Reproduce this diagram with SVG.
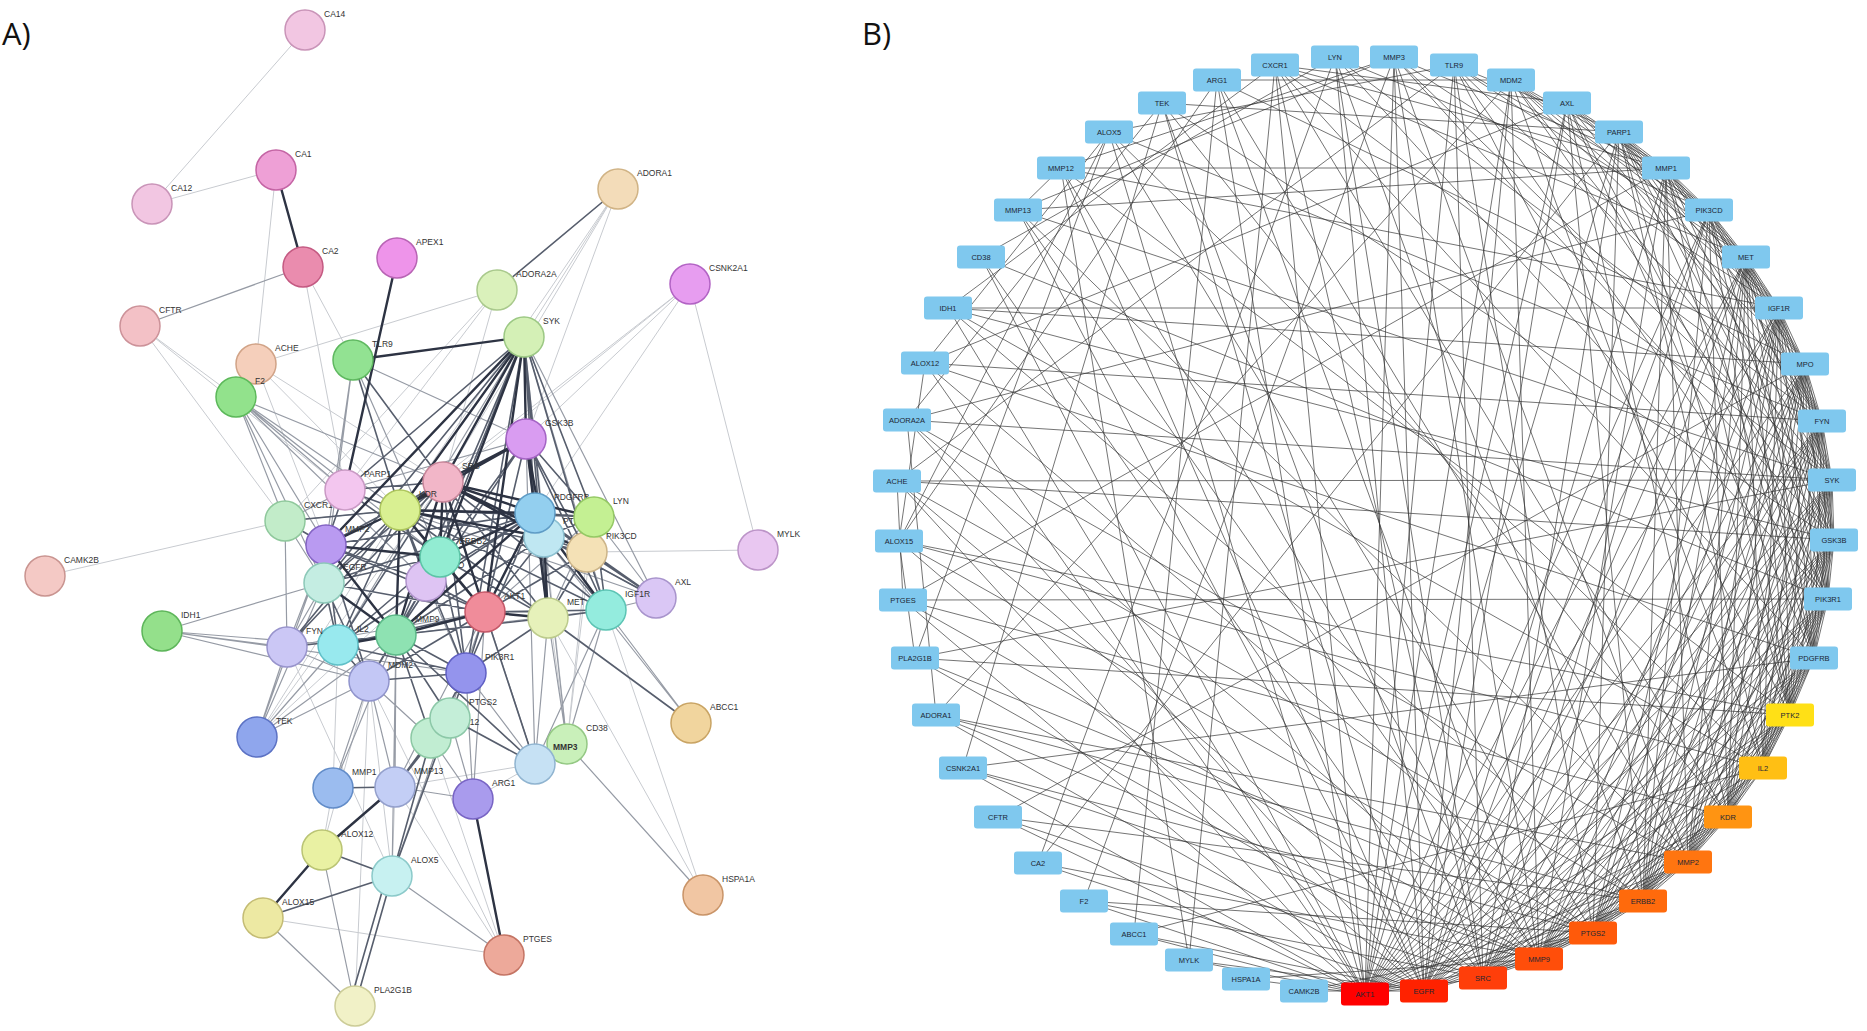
<svg xmlns="http://www.w3.org/2000/svg" width="1867" height="1031" viewBox="0 0 1867 1031">
<style>
.bg{fill:#ffffff}
.pl{font-family:"Open Sans","Liberation Sans",sans-serif;font-size:31px;fill:#111}
.na circle{stroke-width:1.5}
.la{font-family:"Liberation Sans",Arial,sans-serif;font-size:8.5px;fill:#333}
.lb{font-family:"Liberation Sans",Arial,sans-serif;font-size:7.5px;fill:#1c2633;text-anchor:middle}
.bx{fill:#7fc8ee}
.e1{stroke:#c8cbd0;stroke-width:1;fill:none}
.e2{stroke:#969ba5;stroke-width:1.2;fill:none}
.e3{stroke:#575e6d;stroke-width:1.6;fill:none}
.e4{stroke:#2d3343;stroke-width:2.4;fill:none}
.eb{stroke:#303030;stroke-width:0.9;fill:none;opacity:0.75}
</style>
<rect class="bg" x="0" y="0" width="1867" height="1031"/>
<text class="pl" x="2" y="45">A)</text>
<text class="pl" x="862" y="45">B)</text>

<g id="connectors-A">
<path class="e1" d="M305 30L152 204M152 204L276 170M276 170L256 364M303 267L353 360M303 267L345 490M140 326L236 397M140 326L285 521M140 326L345 490M256 364L497 290M256 364L400 510M256 364L443 482M256 364L326 545M618 189L526 439M618 189L443 482M618 189L400 510M618 189L524 337M497 290L345 490M497 290L285 521M497 290L443 482M690 284L526 439M690 284L443 482M690 284L400 510M690 284L535 513M690 284L758 550M758 550L587 552M45 576L285 521M257 737L400 510M257 737L443 482M257 737L426 581M703 895L548 618M703 895L606 610M504 955L263 918M504 955L369 681M504 955L395 787M504 955L431 738M322 850L369 681M322 850L333 788M392 876L395 787M392 876L369 681M392 876L287 647M355 1006L369 681M333 788L338 645M473 799L535 764M395 787L535 764M567 744L587 552M567 744L594 517M567 744L526 439M567 744L524 337"/>
<path class="e2" d="M303 267L140 326M162 631L324 583M162 631L287 647M162 631L338 645M162 631L369 681M162 631L466 673M236 397L285 521M236 397L345 490M236 397L326 545M236 397L400 510M236 397L443 482M236 397L324 583M236 397L426 581M236 397L440 557M353 360L526 439M353 360L326 545M353 360L324 583M353 360L440 557M524 337L338 645M524 337L606 610M524 337L656 598M257 737L287 647M257 737L338 645M257 737L324 583M257 737L326 545M257 737L396 635M257 737L369 681M691 723L544 537M691 723L606 610M703 895L567 744M504 955L392 876M322 850L355 1006M263 918L355 1006M392 876L485 612M392 876L396 635M333 788L369 681M333 788L396 635M395 787L369 681M395 787L396 635M395 787L485 612M395 787L473 799M473 799L431 738M473 799L450 718M473 799L485 612M473 799L466 673M535 764L548 618M535 764L606 610M535 764L466 673M535 764L567 744M535 764L443 482M535 764L526 439M567 744L548 618M567 744L606 610M567 744L544 537M526 439L326 545M526 439L345 490M544 537L656 598M594 517L656 598M594 517L548 618M594 517L485 612M606 610L656 598M606 610L396 635M400 510L656 598M485 612L287 647M287 647L324 583M287 647L326 545M287 647L369 681M287 647L285 521M426 581L466 673M369 681L431 738M345 490L285 521M285 521L324 583M285 521L400 510"/>
<path class="e3" d="M618 189L497 290M353 360L400 510M353 360L443 482M524 337L345 490M524 337L324 583M524 337L426 581M524 337L535 513M524 337L544 537M524 337L594 517M524 337L587 552M524 337L396 635M524 337L548 618M524 337L466 673M691 723L548 618M392 876L322 850M263 918L392 876M392 876L431 738M392 876L450 718M392 876L355 1006M386 878L349 1006M333 788L395 787M395 787L431 738M395 787L450 718M535 764L450 718M535 764L485 612M535 764L396 635M400 510L426 581M400 510L324 583M400 510L594 517M400 510L587 552M400 510L338 645M400 510L287 647M400 510L466 673M400 510L548 618M400 510L606 610M400 510L345 490M400 510L285 521M443 482L326 545M443 482L548 618M443 482L606 610M443 482L656 598M443 482L338 645M443 482L287 647M443 482L466 673M443 482L324 583M443 482L345 490M526 439L594 517M526 439L587 552M526 439L485 612M526 439L396 635M526 439L440 557M526 439L548 618M526 439L606 610M535 513L594 517M535 513L587 552M535 513L656 598M535 513L326 545M535 513L324 583M535 513L426 581M535 513L466 673M535 513L338 645M544 537L485 612M544 537L606 610M544 537L396 635M544 537L594 517M544 537L587 552M594 517L606 610M594 517L587 552M587 552L606 610M587 552L656 598M587 552L548 618M587 552L485 612M606 610L548 618M606 610L485 612M548 618L396 635M548 618L466 673M548 618L440 557M485 612L426 581M485 612L326 545M485 612L324 583M485 612L338 645M485 612L466 673M485 612L369 681M396 635L287 647M396 635L440 557M396 635L426 581M396 635L369 681M396 635L466 673M396 635L431 738M396 635L450 718M338 645L324 583M338 645L326 545M338 645L440 557M338 645L369 681M338 645L466 673M326 545L324 583M326 545L426 581M326 545L345 490M326 545L285 521M326 545L369 681M324 583L440 557M324 583L369 681M440 557L426 581M440 557L466 673M440 557L369 681M440 557L345 490M369 681L466 673M466 673L431 738M466 673L450 718"/>
<path class="e4" d="M276 170L303 267M397 258L345 490M353 360L524 337M524 337L526 439M524 337L443 482M524 337L400 510M524 337L326 545M524 337L440 557M524 337L485 612M504 955L473 799M322 850L263 918M322 850L395 787M400 510L443 482M400 510L526 439M400 510L326 545M400 510L440 557M400 510L535 513M400 510L544 537M400 510L485 612M400 510L396 635M443 482L526 439M443 482L440 557M443 482L535 513M443 482L544 537M443 482L594 517M443 482L587 552M443 482L485 612M443 482L396 635M526 439L535 513M526 439L544 537M535 513L544 537M535 513L606 610M535 513L548 618M535 513L485 612M535 513L396 635M535 513L440 557M544 537L548 618M548 618L485 612M485 612L396 635M485 612L440 557M396 635L338 645M396 635L324 583M396 635L326 545M326 545L440 557"/>
</g>

<g id="nodes-A" class="na">
<g id="a-CA14"><circle cx="305" cy="30" r="20" fill="#f2c6e2" stroke="#c994b8"/><text class="la" x="324" y="17">CA14</text></g>
<g id="a-CA12"><circle cx="152" cy="204" r="20" fill="#f2c6e2" stroke="#c994b8"/><text class="la" x="171" y="191">CA12</text></g>
<g id="a-CA1"><circle cx="276" cy="170" r="20" fill="#eea0d6" stroke="#c464a4"/><text class="la" x="295" y="157">CA1</text></g>
<g id="a-CA2"><circle cx="303" cy="267" r="20" fill="#ea8cae" stroke="#c45a82"/><text class="la" x="322" y="254">CA2</text></g>
<g id="a-APEX1"><circle cx="397" cy="258" r="20" fill="#ee94ea" stroke="#b864b4"/><text class="la" x="416" y="245">APEX1</text></g>
<g id="a-CFTR"><circle cx="140" cy="326" r="20" fill="#f3c1c6" stroke="#cc9299"/><text class="la" x="159" y="313">CFTR</text></g>
<g id="a-ACHE"><circle cx="256" cy="364" r="20" fill="#f5cfbb" stroke="#d1a387"/><text class="la" x="275" y="351">ACHE</text></g>
<g id="a-TLR9"><circle cx="353" cy="360" r="20" fill="#92e292" stroke="#5fb860"/><text class="la" x="372" y="347">TLR9</text></g>
<g id="a-F2"><circle cx="236" cy="397" r="20" fill="#92e28c" stroke="#5cb85a"/><text class="la" x="255" y="384">F2</text></g>
<g id="a-ADORA1"><circle cx="618" cy="189" r="20" fill="#f3dcb9" stroke="#d0b385"/><text class="la" x="637" y="176">ADORA1</text></g>
<g id="a-ADORA2A"><circle cx="497" cy="290" r="20" fill="#daf1bb" stroke="#a9c98c"/><text class="la" x="516" y="277">ADORA2A</text></g>
<g id="a-SYK"><circle cx="524" cy="337" r="20" fill="#d4f0b6" stroke="#9cc884"/><text class="la" x="543" y="324">SYK</text></g>
<g id="a-CSNK2A1"><circle cx="690" cy="284" r="20" fill="#e79df0" stroke="#b263c4"/><text class="la" x="709" y="271">CSNK2A1</text></g>
<g id="a-CAMK2B"><circle cx="45" cy="576" r="20" fill="#f4c9c5" stroke="#c99490"/><text class="la" x="64" y="563">CAMK2B</text></g>
<g id="a-IDH1"><circle cx="162" cy="631" r="20" fill="#94e08b" stroke="#5db55a"/><text class="la" x="181" y="618">IDH1</text></g>
<g id="a-MYLK"><circle cx="758" cy="550" r="20" fill="#e9c7f1" stroke="#bc94c8"/><text class="la" x="777" y="537">MYLK</text></g>
<g id="a-TEK"><circle cx="257" cy="737" r="20" fill="#8fa6ed" stroke="#5c72c4"/><text class="la" x="276" y="724">TEK</text></g>
<g id="a-ABCC1"><circle cx="691" cy="723" r="20" fill="#f1d59e" stroke="#c9a464"/><text class="la" x="710" y="710">ABCC1</text></g>
<g id="a-HSPA1A"><circle cx="703" cy="895" r="20" fill="#f1c6a3" stroke="#c99468"/><text class="la" x="722" y="882">HSPA1A</text></g>
<g id="a-PTGES"><circle cx="504" cy="955" r="20" fill="#eda99a" stroke="#c47464"/><text class="la" x="523" y="942">PTGES</text></g>
<g id="a-ALOX12"><circle cx="322" cy="850" r="20" fill="#e9f1a3" stroke="#bac474"/><text class="la" x="341" y="837">ALOX12</text></g>
<g id="a-ALOX5"><circle cx="392" cy="876" r="20" fill="#c7f1f1" stroke="#8ccaca"/><text class="la" x="411" y="863">ALOX5</text></g>
<g id="a-ALOX15"><circle cx="263" cy="918" r="20" fill="#ede9a3" stroke="#c4bc74"/><text class="la" x="282" y="905">ALOX15</text></g>
<g id="a-PLA2G1B"><circle cx="355" cy="1006" r="20" fill="#f1f1c7" stroke="#cccc98"/><text class="la" x="374" y="993">PLA2G1B</text></g>
<g id="a-MMP1"><circle cx="333" cy="788" r="20" fill="#9bbcef" stroke="#628cc8"/><text class="la" x="352" y="775">MMP1</text></g>
<g id="a-MMP13"><circle cx="395" cy="787" r="20" fill="#c3cef5" stroke="#94a0cc"/><text class="la" x="414" y="774">MMP13</text></g>
<g id="a-ARG1"><circle cx="473" cy="799" r="20" fill="#a99bed" stroke="#7864c4"/><text class="la" x="492" y="786">ARG1</text></g>
<g id="a-MMP12"><circle cx="431" cy="738" r="20" fill="#c1edd2" stroke="#8cc8a4"/><text class="la" x="450" y="725">MMP12</text></g>
<g id="a-PTGS2"><circle cx="450" cy="718" r="20" fill="#c4eed8" stroke="#8cc8a8"/><text class="la" x="469" y="705">PTGS2</text></g>
<g id="a-CD38"><circle cx="567" cy="744" r="20" fill="#c9f0ba" stroke="#94c884"/><text class="la" x="586" y="731">CD38</text></g>
<g id="a-MMP3"><circle cx="535" cy="764" r="20" fill="#c6e1f4" stroke="#90b4d0"/><text class="la" x="553" y="750" font-weight="bold">MMP3</text></g>
<g id="a-CXCR1"><circle cx="285" cy="521" r="20" fill="#c2ecc9" stroke="#8fc89c"/><text class="la" x="304" y="508">CXCR1</text></g>
<g id="a-PARP1"><circle cx="345" cy="490" r="20" fill="#f3c6ef" stroke="#c999c4"/><text class="la" x="364" y="477">PARP1</text></g>
<g id="a-GSK3B"><circle cx="526" cy="439" r="20" fill="#d99cf1" stroke="#a464c4"/><text class="la" x="545" y="426">GSK3B</text></g>
<g id="a-SRC"><circle cx="443" cy="482" r="20" fill="#f2b6c8" stroke="#c8869a"/><text class="la" x="462" y="469">SRC</text></g>
<g id="a-KDR"><circle cx="400" cy="510" r="20" fill="#d9f092" stroke="#aec65e"/><text class="la" x="419" y="497">KDR</text></g>
<g id="a-MPO"><circle cx="426" cy="581" r="20" fill="#dec4f3" stroke="#b094cc"/><text class="la" x="445" y="568">MPO</text></g>
<g id="a-ERBB2"><circle cx="440" cy="557" r="20" fill="#92ecd2" stroke="#5cc4a6"/><text class="la" x="459" y="544">ERBB2</text></g>
<g id="a-MMP2"><circle cx="326" cy="545" r="20" fill="#b99af1" stroke="#8464c4"/><text class="la" x="345" y="532">MMP2</text></g>
<g id="a-EGFR"><circle cx="324" cy="583" r="20" fill="#c4ede2" stroke="#8cc8b8"/><text class="la" x="343" y="570">EGFR</text></g>
<g id="a-PTK2"><circle cx="544" cy="537" r="20" fill="#bfe7f2" stroke="#8cc0d0"/><text class="la" x="563" y="524">PTK2</text></g>
<g id="a-PDGFRB"><circle cx="535" cy="513" r="20" fill="#93cfef" stroke="#5f9cc6"/><text class="la" x="554" y="500">PDGFRB</text></g>
<g id="a-PIK3CD"><circle cx="587" cy="552" r="20" fill="#f4e1b6" stroke="#ccb488"/><text class="la" x="606" y="539">PIK3CD</text></g>
<g id="a-LYN"><circle cx="594" cy="517" r="20" fill="#c4f093" stroke="#94c864"/><text class="la" x="613" y="504">LYN</text></g>
<g id="a-AXL"><circle cx="656" cy="598" r="20" fill="#dac7f5" stroke="#a894cc"/><text class="la" x="675" y="585">AXL</text></g>
<g id="a-IGF1R"><circle cx="606" cy="610" r="20" fill="#94ecde" stroke="#5cc4b4"/><text class="la" x="625" y="597">IGF1R</text></g>
<g id="a-MET"><circle cx="548" cy="618" r="20" fill="#e6f1ba" stroke="#bccb8c"/><text class="la" x="567" y="605">MET</text></g>
<g id="a-AKT1"><circle cx="485" cy="612" r="20" fill="#f08c9a" stroke="#c45868"/><text class="la" x="504" y="599">AKT1</text></g>
<g id="a-MMP9"><circle cx="396" cy="635" r="20" fill="#8ee2b2" stroke="#5cb888"/><text class="la" x="415" y="622">MMP9</text></g>
<g id="a-IL2"><circle cx="338" cy="645" r="20" fill="#98e9ee" stroke="#60c0c8"/><text class="la" x="357" y="632">IL2</text></g>
<g id="a-FYN"><circle cx="287" cy="647" r="20" fill="#cbc7f5" stroke="#9894cc"/><text class="la" x="306" y="634">FYN</text></g>
<g id="a-MDM2"><circle cx="369" cy="681" r="20" fill="#c3c7f5" stroke="#9094cc"/><text class="la" x="388" y="668">MDM2</text></g>
<g id="a-PIK3R1"><circle cx="466" cy="673" r="20" fill="#9494ed" stroke="#6060c4"/><text class="la" x="485" y="660">PIK3R1</text></g>
</g>

<g id="connectors-B">
<path class="eb" d="M1365 994L1483 978M1365 994L1539 959M1365 994L1593 933M1365 994L1643 901M1365 994L1688 862M1365 994L1728 817M1365 994L1763 768M1365 994L1790 715M1365 994L1814 658M1365 994L1828 599M1365 994L1834 540M1365 994L1832 480M1365 994L1822 421M1365 994L1805 364M1365 994L1779 308M1365 994L1746 257M1365 994L1709 210M1365 994L1619 132M1365 994L1567 103M1365 994L1511 80M1365 994L1454 65M1365 994L1394 57M1365 994L1275 65M1365 994L1217 80M1365 994L1109 132M1365 994L981 257M1365 994L948 308M1365 994L925 363M1365 994L897 481M1365 994L903 600M1365 994L963 768M1365 994L998 817M1365 994L1084 901M1365 994L1134 934M1365 994L1189 960M1365 994L1246 979"/>
<path class="eb" d="M1424 991L1539 959M1424 991L1593 933M1424 991L1643 901M1424 991L1688 862M1424 991L1728 817M1424 991L1790 715M1424 991L1814 658M1424 991L1828 599M1424 991L1834 540M1424 991L1832 480M1424 991L1822 421M1424 991L1779 308M1424 991L1746 257M1424 991L1709 210M1424 991L1666 168M1424 991L1567 103M1424 991L1511 80M1424 991L1394 57M1424 991L1335 57M1424 991L1162 103M1424 991L1061 168M1424 991L1018 210M1424 991L907 420M1424 991L899 541M1424 991L936 715M1424 991L1038 863M1424 991L1134 934M1424 991L1189 960M1424 991L1304 991"/>
<path class="eb" d="M1483 978L1539 959M1483 978L1593 933M1483 978L1643 901M1483 978L1688 862M1483 978L1728 817M1483 978L1763 768M1483 978L1790 715M1483 978L1814 658M1483 978L1828 599M1483 978L1834 540M1483 978L1832 480M1483 978L1822 421M1483 978L1805 364M1483 978L1746 257M1483 978L1709 210M1483 978L1619 132M1483 978L1454 65M1483 978L1335 57M1483 978L1275 65M1483 978L1162 103M1483 978L981 257M1483 978L897 481M1483 978L915 658M1483 978L1084 901"/>
<path class="eb" d="M1539 959L1593 933M1539 959L1643 901M1539 959L1688 862M1539 959L1728 817M1539 959L1763 768M1539 959L1790 715M1539 959L1814 658M1539 959L1834 540M1539 959L1822 421M1539 959L1779 308M1539 959L1666 168M1539 959L1511 80M1539 959L1394 57M1539 959L1217 80M1539 959L1061 168M1539 959L1018 210M1539 959L907 420M1539 959L903 600M1539 959L936 715M1539 959L1038 863M1539 959L1246 979M1539 959L1828 599M1539 959L1832 480M1539 959L1805 364"/>
<path class="eb" d="M1593 933L1643 901M1593 933L1688 862M1593 933L1728 817M1593 933L1763 768M1593 933L1790 715M1593 933L1828 599M1593 933L1832 480M1593 933L1805 364M1593 933L1746 257M1593 933L1619 132M1593 933L1454 65M1593 933L1109 132M1593 933L925 363M1593 933L899 541M1593 933L915 658M1593 933L963 768M1593 933L1084 901M1593 933L1304 991M1593 933L1814 658M1593 933L1834 540M1593 933L1822 421M1593 933L1779 308"/>
<path class="eb" d="M1643 901L1688 862M1643 901L1728 817M1643 901L1790 715M1643 901L1814 658M1643 901L1828 599M1643 901L1834 540M1643 901L1822 421M1643 901L1779 308M1643 901L1709 210M1643 901L1567 103M1643 901L1335 57M1643 901L948 308M1643 901L897 481M1643 901L998 817M1643 901L1832 480M1643 901L1805 364M1643 901L1746 257M1643 901L1666 168"/>
<path class="eb" d="M1688 862L1728 817M1688 862L1763 768M1688 862L1790 715M1688 862L1814 658M1688 862L1832 480M1688 862L1805 364M1688 862L1746 257M1688 862L1666 168M1688 862L1394 57M1688 862L1217 80M1688 862L1018 210M1688 862L907 420M1688 862L936 715M1688 862L1828 599M1688 862L1834 540M1688 862L1822 421M1688 862L1779 308"/>
<path class="eb" d="M1728 817L1763 768M1728 817L1790 715M1728 817L1814 658M1728 817L1828 599M1728 817L1834 540M1728 817L1822 421M1728 817L1779 308M1728 817L1709 210M1728 817L1567 103M1728 817L1275 65M1728 817L1162 103M1728 817L903 600M1728 817L1832 480M1728 817L1805 364M1728 817L1746 257"/>
<path class="eb" d="M1763 768L1790 715M1763 768L1828 599M1763 768L1832 480M1763 768L1805 364M1763 768L1746 257M1763 768L1619 132M1763 768L1511 80M1763 768L1109 132M1763 768L948 308M1763 768L1134 934M1763 768L1814 658M1763 768L1834 540M1763 768L1822 421M1763 768L1779 308"/>
<path class="eb" d="M1790 715L1814 658M1790 715L1828 599M1790 715L1834 540M1790 715L1822 421M1790 715L1779 308M1790 715L1666 168M1790 715L1454 65M1790 715L1061 168M1790 715L899 541M1790 715L1832 480M1790 715L1805 364M1790 715L1746 257M1790 715L1709 210M1790 715L1619 132"/>
<path class="eb" d="M1814 658L1828 599M1814 658L1834 540M1814 658L1832 480M1814 658L1805 364M1814 658L1709 210M1814 658L1567 103M1814 658L1275 65M1814 658L925 363M1814 658L963 768M1814 658L1822 421M1814 658L1779 308M1814 658L1746 257M1814 658L1666 168"/>
<path class="eb" d="M1828 599L1834 540M1828 599L1832 480M1828 599L1822 421M1828 599L1779 308M1828 599L1746 257M1828 599L1619 132M1828 599L1335 57M1828 599L981 257M1828 599L1805 364M1828 599L1709 210M1828 599L1567 103M1828 599L1454 65"/>
<path class="eb" d="M1834 540L1832 480M1834 540L1805 364M1834 540L1746 257M1834 540L1511 80M1834 540L1162 103M1834 540L897 481M1834 540L1822 421M1834 540L1779 308M1834 540L1666 168M1834 540L1619 132M1834 540L1394 57"/>
<path class="eb" d="M1832 480L1822 421M1832 480L1779 308M1832 480L1709 210M1832 480L1394 57M1832 480L1018 210M1832 480L915 658M1832 480L1805 364M1832 480L1746 257M1832 480L1619 132M1832 480L1511 80M1832 480L1275 65"/>
<path class="eb" d="M1822 421L1805 364M1822 421L1746 257M1822 421L1666 168M1822 421L1454 65M1822 421L1109 132M1822 421L1779 308M1822 421L1709 210M1822 421L1619 132M1822 421L1567 103M1822 421L1335 57"/>
<path class="eb" d="M1805 364L1779 308M1805 364L1619 132M1805 364L1217 80M1805 364L948 308M1805 364L998 817M1805 364L1746 257M1805 364L1709 210M1805 364L1666 168M1805 364L1511 80"/>
<path class="eb" d="M1779 308L1746 257M1779 308L1709 210M1779 308L1567 103M1779 308L1061 168M1779 308L1666 168M1779 308L1619 132M1779 308L1511 80M1779 308L1394 57M1746 257L1709 210M1746 257L1511 80M1746 257L1275 65M1746 257L1666 168M1746 257L1619 132M1746 257L1567 103M1746 257L1454 65M1709 210L1619 132M1709 210L1335 57M1709 210L907 420M1709 210L1666 168M1709 210L1567 103M1709 210L1511 80M1709 210L1454 65M1666 168L1394 57M1666 168L1018 210M1666 168L903 600M1666 168L1619 132M1666 168L1567 103M1666 168L1511 80M1666 168L1275 65"/>
<path class="eb" d="M1619 132L1454 65M1619 132L1162 103M1619 132L1038 863M1567 103L1275 65M1567 103L925 363M1511 80L1217 80M1511 80L936 715M1454 65L1109 132M1454 65L897 481M1394 57L1061 168M1394 57L1018 210M1394 57L1084 901M1335 57L981 257M1335 57L1038 863M1275 65L948 308M1275 65L1189 960M1217 80L899 541M1217 80L1134 934M1162 103L963 768M1162 103L907 420"/>
<path class="eb" d="M1109 132L925 363M1109 132L899 541M1109 132L915 658M1061 168L1018 210M1061 168L1189 960M925 363L899 541M899 541L915 658M907 420L936 715M897 481L903 600M897 481L1832 480M925 363L1822 421M1061 168L1666 168M948 308L1779 308M907 420L1832 480M915 658L1790 715M936 715L1643 901M963 768L1539 959M998 817L1483 978M903 600L1828 599M899 541L1763 768M948 308L1834 540"/>
</g>

<g id="nodes-B">
<g id="b-AKT1"><rect x="1341" y="982.5" width="48" height="23" rx="3" fill="#ff0000"/><text class="lb" x="1365" y="997">AKT1</text></g>
<g id="b-EGFR"><rect x="1400" y="979.5" width="48" height="23" rx="3" fill="#ff2200"/><text class="lb" x="1424" y="994">EGFR</text></g>
<g id="b-SRC"><rect x="1459" y="966.5" width="48" height="23" rx="3" fill="#ff3e0a"/><text class="lb" x="1483" y="981">SRC</text></g>
<g id="b-MMP9"><rect x="1515" y="947.5" width="48" height="23" rx="3" fill="#ff4e0a"/><text class="lb" x="1539" y="962">MMP9</text></g>
<g id="b-PTGS2"><rect x="1569" y="921.5" width="48" height="23" rx="3" fill="#ff5a0a"/><text class="lb" x="1593" y="936">PTGS2</text></g>
<g id="b-ERBB2"><rect x="1619" y="889.5" width="48" height="23" rx="3" fill="#ff6a0c"/><text class="lb" x="1643" y="904">ERBB2</text></g>
<g id="b-MMP2"><rect x="1664" y="850.5" width="48" height="23" rx="3" fill="#ff7510"/><text class="lb" x="1688" y="865">MMP2</text></g>
<g id="b-KDR"><rect x="1704" y="805.5" width="48" height="23" rx="3" fill="#ff9412"/><text class="lb" x="1728" y="820">KDR</text></g>
<g id="b-IL2"><rect x="1739" y="756.5" width="48" height="23" rx="3" fill="#ffbf14"/><text class="lb" x="1763" y="771">IL2</text></g>
<g id="b-PTK2"><rect x="1766" y="703.5" width="48" height="23" rx="3" fill="#ffe016"/><text class="lb" x="1790" y="718">PTK2</text></g>
<g id="b-PDGFRB"><rect x="1790" y="646.5" width="48" height="23" rx="3" class="bx"/><text class="lb" x="1814" y="661">PDGFRB</text></g>
<g id="b-PIK3R1"><rect x="1804" y="587.5" width="48" height="23" rx="3" class="bx"/><text class="lb" x="1828" y="602">PIK3R1</text></g>
<g id="b-GSK3B"><rect x="1810" y="528.5" width="48" height="23" rx="3" class="bx"/><text class="lb" x="1834" y="543">GSK3B</text></g>
<g id="b-SYK"><rect x="1808" y="468.5" width="48" height="23" rx="3" class="bx"/><text class="lb" x="1832" y="483">SYK</text></g>
<g id="b-FYN"><rect x="1798" y="409.5" width="48" height="23" rx="3" class="bx"/><text class="lb" x="1822" y="424">FYN</text></g>
<g id="b-MPO"><rect x="1781" y="352.5" width="48" height="23" rx="3" class="bx"/><text class="lb" x="1805" y="367">MPO</text></g>
<g id="b-IGF1R"><rect x="1755" y="296.5" width="48" height="23" rx="3" class="bx"/><text class="lb" x="1779" y="311">IGF1R</text></g>
<g id="b-MET"><rect x="1722" y="245.5" width="48" height="23" rx="3" class="bx"/><text class="lb" x="1746" y="260">MET</text></g>
<g id="b-PIK3CD"><rect x="1685" y="198.5" width="48" height="23" rx="3" class="bx"/><text class="lb" x="1709" y="213">PIK3CD</text></g>
<g id="b-MMP1"><rect x="1642" y="156.5" width="48" height="23" rx="3" class="bx"/><text class="lb" x="1666" y="171">MMP1</text></g>
<g id="b-PARP1"><rect x="1595" y="120.5" width="48" height="23" rx="3" class="bx"/><text class="lb" x="1619" y="135">PARP1</text></g>
<g id="b-AXL"><rect x="1543" y="91.5" width="48" height="23" rx="3" class="bx"/><text class="lb" x="1567" y="106">AXL</text></g>
<g id="b-MDM2"><rect x="1487" y="68.5" width="48" height="23" rx="3" class="bx"/><text class="lb" x="1511" y="83">MDM2</text></g>
<g id="b-TLR9"><rect x="1430" y="53.5" width="48" height="23" rx="3" class="bx"/><text class="lb" x="1454" y="68">TLR9</text></g>
<g id="b-MMP3"><rect x="1370" y="45.5" width="48" height="23" rx="3" class="bx"/><text class="lb" x="1394" y="60">MMP3</text></g>
<g id="b-LYN"><rect x="1311" y="45.5" width="48" height="23" rx="3" class="bx"/><text class="lb" x="1335" y="60">LYN</text></g>
<g id="b-CXCR1"><rect x="1251" y="53.5" width="48" height="23" rx="3" class="bx"/><text class="lb" x="1275" y="68">CXCR1</text></g>
<g id="b-ARG1"><rect x="1193" y="68.5" width="48" height="23" rx="3" class="bx"/><text class="lb" x="1217" y="83">ARG1</text></g>
<g id="b-TEK"><rect x="1138" y="91.5" width="48" height="23" rx="3" class="bx"/><text class="lb" x="1162" y="106">TEK</text></g>
<g id="b-ALOX5"><rect x="1085" y="120.5" width="48" height="23" rx="3" class="bx"/><text class="lb" x="1109" y="135">ALOX5</text></g>
<g id="b-MMP12"><rect x="1037" y="156.5" width="48" height="23" rx="3" class="bx"/><text class="lb" x="1061" y="171">MMP12</text></g>
<g id="b-MMP13"><rect x="994" y="198.5" width="48" height="23" rx="3" class="bx"/><text class="lb" x="1018" y="213">MMP13</text></g>
<g id="b-CD38"><rect x="957" y="245.5" width="48" height="23" rx="3" class="bx"/><text class="lb" x="981" y="260">CD38</text></g>
<g id="b-IDH1"><rect x="924" y="296.5" width="48" height="23" rx="3" class="bx"/><text class="lb" x="948" y="311">IDH1</text></g>
<g id="b-ALOX12"><rect x="901" y="351.5" width="48" height="23" rx="3" class="bx"/><text class="lb" x="925" y="366">ALOX12</text></g>
<g id="b-ADORA2A"><rect x="883" y="408.5" width="48" height="23" rx="3" class="bx"/><text class="lb" x="907" y="423">ADORA2A</text></g>
<g id="b-ACHE"><rect x="873" y="469.5" width="48" height="23" rx="3" class="bx"/><text class="lb" x="897" y="484">ACHE</text></g>
<g id="b-ALOX15"><rect x="875" y="529.5" width="48" height="23" rx="3" class="bx"/><text class="lb" x="899" y="544">ALOX15</text></g>
<g id="b-PTGES"><rect x="879" y="588.5" width="48" height="23" rx="3" class="bx"/><text class="lb" x="903" y="603">PTGES</text></g>
<g id="b-PLA2G1B"><rect x="891" y="646.5" width="48" height="23" rx="3" class="bx"/><text class="lb" x="915" y="661">PLA2G1B</text></g>
<g id="b-ADORA1"><rect x="912" y="703.5" width="48" height="23" rx="3" class="bx"/><text class="lb" x="936" y="718">ADORA1</text></g>
<g id="b-CSNK2A1"><rect x="939" y="756.5" width="48" height="23" rx="3" class="bx"/><text class="lb" x="963" y="771">CSNK2A1</text></g>
<g id="b-CFTR"><rect x="974" y="805.5" width="48" height="23" rx="3" class="bx"/><text class="lb" x="998" y="820">CFTR</text></g>
<g id="b-CA2"><rect x="1014" y="851.5" width="48" height="23" rx="3" class="bx"/><text class="lb" x="1038" y="866">CA2</text></g>
<g id="b-F2"><rect x="1060" y="889.5" width="48" height="23" rx="3" class="bx"/><text class="lb" x="1084" y="904">F2</text></g>
<g id="b-ABCC1"><rect x="1110" y="922.5" width="48" height="23" rx="3" class="bx"/><text class="lb" x="1134" y="937">ABCC1</text></g>
<g id="b-MYLK"><rect x="1165" y="948.5" width="48" height="23" rx="3" class="bx"/><text class="lb" x="1189" y="963">MYLK</text></g>
<g id="b-HSPA1A"><rect x="1222" y="967.5" width="48" height="23" rx="3" class="bx"/><text class="lb" x="1246" y="982">HSPA1A</text></g>
<g id="b-CAMK2B"><rect x="1280" y="979.5" width="48" height="23" rx="3" class="bx"/><text class="lb" x="1304" y="994">CAMK2B</text></g>
</g>
</svg>
